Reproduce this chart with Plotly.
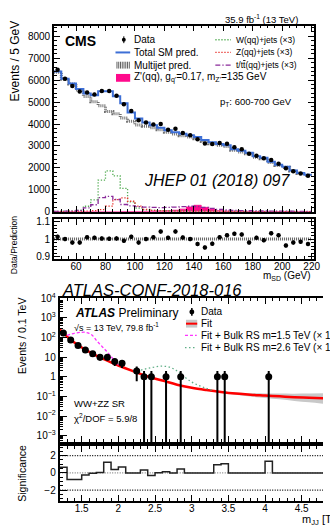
import plotly.graph_objects as go

W, H = 330, 530
def fx(p): return p / W
def fy(p): return 1 - p / H

FONT = "Liberation Sans"

# ---------------- CMS panel data ----------------
cms_edges = [45 + 5 * i for i in range(36)]
cms_centers = [47.5 + 5 * i for i in range(35)]
cms_data = [6470, 6070, 5735, 5485, 5440, 5350, 5510, 5510, 5290, 4900,
            4590, 4170, 4070, 3980, 4000, 3740, 3790, 3590, 3490, 3310,
            3115, 3085, 3130, 3100, 2940, 2850, 2640, 2550, 2445, 2355,
            2190, 1980, 1846, 1743, 1640]
cms_data_err = [80, 78, 76, 74, 74, 73, 74, 74, 73, 70,
                68, 65, 64, 63, 63, 61, 62, 60, 59, 58,
                56, 56, 56, 56, 54, 53, 51, 50, 49, 49,
                47, 44, 43, 42, 40]
cms_pred = [6390, 6070, 5850, 5600, 5390, 5310, 5490, 5500, 5270, 4950,
            4530, 4255, 4070, 3940, 3835, 3715, 3630, 3560, 3490, 3405,
            3270, 3170, 3095, 3035, 2855, 2780, 2695, 2530, 2460, 2280,
            2145, 2055, 1885, 1770, 1690]
cms_multijet = [6360, 6040, 5820, 5550, 5250, 5020, 4830, 4575, 4470, 4280,
                4125, 3960, 3900, 3830, 3740, 3620, 3540, 3470, 3410, 3330,
                3200, 3100, 3030, 2970, 2800, 2725, 2645, 2490, 2420, 2245,
                2110, 2025, 1855, 1745, 1665]
cms_w3 = [20, 25, 30, 60, 250, 540, 1440, 1860, 1640, 1070,
          450, 170, 90, 60, 50, 45, 40, 38, 35, 32,
          30, 28, 26, 24, 22, 20, 18, 16, 15, 14,
          13, 12, 11, 10, 10]
cms_z3 = [10, 10, 15, 20, 30, 50, 100, 260, 550, 630,
          480, 260, 110, 60, 40, 30, 25, 22, 20, 18,
          16, 15, 14, 13, 12, 11, 10, 10, 9, 9,
          8, 8, 7, 7, 6]
cms_top3 = [20, 25, 30, 60, 180, 320, 640, 700, 560, 330,
            270, 230, 210, 200, 190, 200, 210, 230, 250, 240,
            200, 150, 110, 80, 60, 50, 45, 40, 35, 30,
            28, 25, 22, 20, 18]
cms_zprime = [5, 5, 5, 5, 5, 5, 5, 5, 5, 8,
              10, 12, 20, 30, 40, 50, 70, 120, 220, 295,
              200, 110, 50, 30, 20, 15, 15, 10, 10, 10,
              10, 8, 8, 6, 6]
cms_ratio = [1.013, 1.0, 0.98, 0.98, 1.01, 1.007, 1.004, 1.002, 1.004, 0.99,
             1.013, 0.98, 1.0, 1.011, 1.043, 1.007, 1.044, 1.009, 1.0, 0.972,
             0.952, 0.974, 1.011, 1.022, 1.03, 1.026, 0.98, 1.007, 0.994, 1.033,
             1.022, 0.963, 0.98, 0.985, 0.972]
cms_ratio_err = [0.012] * 35

# ---------------- ATLAS panel data ----------------
atl_x = [1.25, 1.35, 1.45, 1.55, 1.65, 1.75, 1.85, 1.95, 2.05, 2.25,
         2.35, 2.45, 2.65, 2.85, 3.35, 3.45, 4.05]
atl_y = [171, 76, 40, 23, 15, 10, 10, 6, 5, 2, 1, 1, 1, 1, 1, 1, 1]
atl_err_up = [13, 8.7, 6.3, 4.8, 3.9, 3.2, 3.2, 2.4, 2.2, 1.4, 1, 1, 1, 1, 1, 1, 1]
atl_err_dn = [13, 8.7, 6.3, 4.8, 3.9, 3.2, 3.2, 2.4, 2.2, 1.4,
              0.9999, 0.9999, 0.9999, 0.9999, 0.9999, 0.9999, 0.9999]

fit_x = [1.2, 1.3, 1.4, 1.5, 1.6, 1.7, 1.8, 1.9, 2.0, 2.2, 2.4, 2.6, 2.8,
         3.0, 3.2, 3.4, 3.6, 3.8, 4.0, 4.2, 4.4, 4.6, 4.8]
fit_y = [263, 112, 56, 31, 19, 12, 7.9, 5.5, 3.8, 1.95, 1.05, 0.65, 0.40,
         0.28, 0.214, 0.17, 0.141, 0.123, 0.112, 0.102, 0.093, 0.087, 0.081]
fit_hi = [272, 116, 58, 32, 19.6, 12.4, 8.2, 5.7, 3.95, 2.03, 1.09, 0.68, 0.415,
          0.29, 0.225, 0.185, 0.161, 0.148, 0.143, 0.141, 0.140, 0.143, 0.145]
fit_lo = [254, 108, 54, 30, 18.4, 11.6, 7.6, 5.3, 3.65, 1.87, 1.01, 0.62, 0.385,
          0.27, 0.203, 0.155, 0.122, 0.100, 0.085, 0.072, 0.060, 0.051, 0.043]

rs15_x = [1.3, 1.4, 1.5, 1.55, 1.6, 1.65, 1.7, 1.75, 1.8, 1.85, 1.9, 1.95, 2.0]
rs15_y = [128, 165, 185, 185, 165, 125, 72, 45, 29, 18, 11, 6.5, 4.0]
rs26_x = [2.2, 2.3, 2.4, 2.5, 2.6, 2.7, 2.8, 2.9, 3.0, 3.1, 3.2, 3.3]
rs26_y = [2.0, 2.2, 2.7, 3.2, 3.5, 3.1, 2.0, 1.0, 0.55, 0.36, 0.26, 0.2]

sig_edges = [round(1.2 + 0.1 * i, 2) for i in range(37)]
sig_vals = [0.65, -0.75, -0.75, -0.25, -0.05, 0.05, 1.25, 0.4, 0.7, 0.0,
            0.0, 0.35, -0.3, 0.02, 0.15, 0.0, 0.45, 0.0, 0.0, 0.0,
            0.0, 0.95, 1.05, 0.0, 0.0, 0.0, 0.0, 0.0, 1.35, 0.0,
            0.0, 0.0, 0.0, 0.0, 0.0, 0.0]

def step(v):
    return list(v) + [v[-1]]

GREEN = "#55ad55"
RED = "#e8302a"
PURPLE = "#8a2a9a"
BLUE = "#3d6fd6"
PINK = "#ff0a8c"
DOT = "1.3px,1.7px"
DASHDOT = "5px,2px,1.3px,2px"

fig = go.Figure()

# ---- CMS main ----
fig.add_trace(go.Scatter(x=cms_edges, y=step(cms_zprime), xaxis="x", yaxis="y",
                         mode="lines", line=dict(shape="hv", color=PINK, width=0.8),
                         fill="tozeroy", fillcolor=PINK, hoverinfo="skip"))
fig.add_trace(go.Scatter(x=cms_edges, y=step(cms_w3), xaxis="x", yaxis="y", mode="lines",
                         line=dict(shape="hv", color=GREEN, width=1.3, dash=DOT)))
fig.add_trace(go.Scatter(x=cms_edges, y=step(cms_z3), xaxis="x", yaxis="y", mode="lines",
                         line=dict(shape="hv", color=RED, width=1.3, dash=DOT)))
fig.add_trace(go.Scatter(x=cms_edges, y=step(cms_top3), xaxis="x", yaxis="y", mode="lines",
                         line=dict(shape="hv", color=PURPLE, width=1.3, dash=DASHDOT)))
fig.add_trace(go.Scatter(x=cms_edges, y=step(cms_multijet), xaxis="x", yaxis="y", mode="lines",
                         line=dict(shape="hv", color="#707070", width=3, dash="1px,1px")))
fig.add_trace(go.Scatter(x=cms_edges, y=step(cms_pred), xaxis="x", yaxis="y", mode="lines",
                         line=dict(shape="hv", color=BLUE, width=2)))
fig.add_trace(go.Scatter(x=cms_centers, y=cms_data, xaxis="x", yaxis="y", mode="markers",
                         marker=dict(color="black", size=4.5),
                         error_y=dict(type="data", array=cms_data_err, color="black",
                                      thickness=1, width=0)))

# ---- CMS ratio ----
fig.add_trace(go.Scatter(x=[cms_edges[0], cms_edges[-1]], y=[1, 1], xaxis="x2", yaxis="y2",
                         mode="lines", line=dict(color="#606060", width=3, dash="1px,1px")))
fig.add_trace(go.Scatter(x=cms_centers, y=cms_ratio, xaxis="x2", yaxis="y2", mode="markers",
                         marker=dict(color="black", size=4.5),
                         error_y=dict(type="data", array=cms_ratio_err, color="black",
                                      thickness=1, width=0)))

# ---- ATLAS main ----
fig.add_trace(go.Scatter(x=fit_x, y=fit_lo, xaxis="x3", yaxis="y3", mode="lines",
                         line=dict(width=0, shape="spline", color="#c8c8c8")))
fig.add_trace(go.Scatter(x=fit_x, y=fit_hi, xaxis="x3", yaxis="y3", mode="lines",
                         line=dict(width=0, shape="spline", color="#c8c8c8"),
                         fill="tonexty", fillcolor="#c8c8c8"))
fig.add_trace(go.Scatter(x=fit_x, y=fit_y, xaxis="x3", yaxis="y3", mode="lines",
                         line=dict(color="#ff0000", width=2.5, shape="spline")))
fig.add_trace(go.Scatter(x=rs15_x, y=rs15_y, xaxis="x3", yaxis="y3", mode="lines",
                         line=dict(color="#ff33ff", width=1.3, dash="3px,2px", shape="spline")))
fig.add_trace(go.Scatter(x=rs26_x, y=rs26_y, xaxis="x3", yaxis="y3", mode="lines",
                         line=dict(color="#5fae86", width=1.3, dash="1.5px,2.5px", shape="spline")))
fig.add_trace(go.Scatter(x=atl_x, y=atl_y, xaxis="x3", yaxis="y3", mode="markers",
                         marker=dict(color="black", size=7),
                         error_y=dict(type="data", symmetric=False, array=atl_err_up,
                                      arrayminus=atl_err_dn, color="black",
                                      thickness=2, width=0)))

# ---- ATLAS significance ----
fig.add_trace(go.Scatter(x=sig_edges, y=step(sig_vals), xaxis="x4", yaxis="y4", mode="lines",
                         line=dict(shape="hv", color="#222222", width=1.5)))

axfont = dict(family=FONT, size=10, color="black")

def lin_axis(domain, rng, dtick, minor_dtick, anchor, show_labels, lw=1.5, **kw):
    d = dict(domain=domain, range=rng, anchor=anchor, dtick=dtick, tick0=0,
             ticks="inside", ticklen=6, tickwidth=1, tickcolor="black",
             showline=True, linecolor="black", linewidth=lw, mirror="ticks",
             showgrid=False, zeroline=False, showticklabels=show_labels,
             tickfont=axfont,
             minor=dict(dtick=minor_dtick, ticks="inside", ticklen=3, tickcolor="black",
                        showgrid=False))
    d.update(kw)
    return d

minor_log = [m * 10 ** e for e in range(-4, 4) for m in range(2, 10)]

fig.update_layout(
    width=W, height=H,
    margin=dict(l=0, r=0, t=0, b=0),
    paper_bgcolor="white", plot_bgcolor="white",
    showlegend=False,
    font=dict(family=FONT, color="black"),
    xaxis=lin_axis([fx(55.1), fx(320.7)], [45, 221.5], 20, 5, "y", False),
    yaxis=lin_axis([fy(209.5), fy(19)], [0, 8490], 1000, 200, "x", True),
    xaxis2=lin_axis([fx(55.1), fx(320.7)], [45, 221.5], 20, 5, "y2", True,
                    ticklabelstandoff=-3),
    yaxis2=lin_axis([fy(258), fy(217.3)], [0.885, 1.113], 0.1, 0.02, "x2", True,
                    tickvals=[0.9, 1.0, 1.1], ticktext=["0.9", "1", "1.1"]),
    xaxis3=lin_axis([fx(61), 1.0], [1.2, 4.79], 0.5, 0.1, "y3", False, lw=2),
    yaxis3=dict(domain=[fy(445), fy(298)], type="log", range=[-3.31, 4.0], anchor="x3",
                tickvals=[1e-3, 1e-2, 1e-1, 1, 10, 100, 1e3, 1e4],
                ticktext=["10<sup>−3</sup>", "10<sup>−2</sup>", "10<sup>−1</sup>", "1", "10",
                          "10<sup>2</sup>", "10<sup>3</sup>", "10<sup>4</sup>"],
                ticks="inside", ticklen=7, tickcolor="black", showline=True,
                linecolor="black", linewidth=2, mirror=False, showgrid=False,
                tickfont=axfont,
                minor=dict(tickvals=minor_log, ticks="inside", ticklen=3.5,
                           tickcolor="black", showgrid=False)),
    xaxis4=lin_axis([fx(61), 1.0], [1.2, 4.79], 0.5, 0.1, "y4", True, lw=2,
                    ticklabelstandoff=-3),
    yaxis4=dict(domain=[fy(505), fy(449)], range=[-3.2, 3.14], anchor="x4",
                tickvals=[-2, 0, 2], ticktext=["−2", "0", "2"],
                ticks="inside", ticklen=7, tickcolor="black", showline=True,
                linecolor="black", linewidth=2, mirror=False, showgrid=False,
                zeroline=False, tickfont=axfont,
                minor=dict(dtick=0.5, ticks="inside", ticklen=3.5, tickcolor="black",
                           showgrid=False)),
)

shapes = []
# significance reference lines
for yv, col in [(2, "black"), (-2, "black"), (0, "#808080")]:
    shapes.append(dict(type="line", xref="x4", yref="y4", x0=1.2, x1=4.79, y0=yv, y1=yv,
                       line=dict(color=col, width=1.2, dash="1px,1.5px"), layer="below"))

# CMS legend symbols
shapes.append(dict(type="line", xref="paper", yref="paper", x0=fx(126.5), x1=fx(126.5),
                   y0=fy(30), y1=fy(37), line=dict(color="black", width=1)))
shapes.append(dict(type="circle", xref="paper", yref="paper", x0=fx(124.5), x1=fx(128.5),
                   y0=fy(31.5), y1=fy(35.5), fillcolor="black", line=dict(color="black", width=0)))
shapes.append(dict(type="line", xref="paper", yref="paper", x0=fx(118), x1=fx(133),
                   y0=fy(46.5), y1=fy(46.5), line=dict(color=BLUE, width=2)))
shapes.append(dict(type="rect", xref="paper", yref="paper", x0=fx(119), x1=fx(133),
                   y0=fy(63), y1=fy(56), line=dict(width=0), fillcolor="white"))
for i in range(8):
    xx = 119.5 + i * 1.8
    shapes.append(dict(type="line", xref="paper", yref="paper", x0=fx(xx), x1=fx(xx),
                       y0=fy(63), y1=fy(56), line=dict(color="#606060", width=1)))
shapes.append(dict(type="rect", xref="paper", yref="paper", x0=fx(118.5), x1=fx(133),
                   y0=fy(76.5), y1=fy(68.5), line=dict(width=0), fillcolor=PINK))
shapes.append(dict(type="line", xref="paper", yref="paper", x0=fx(220), x1=fx(236),
                   y0=fy(33.5), y1=fy(33.5), line=dict(color=GREEN, width=1.3, dash=DOT)))
shapes.append(dict(type="line", xref="paper", yref="paper", x0=fx(220), x1=fx(236),
                   y0=fy(46.5), y1=fy(46.5), line=dict(color=RED, width=1.3, dash=DOT)))
shapes.append(dict(type="line", xref="paper", yref="paper", x0=fx(220), x1=fx(236),
                   y0=fy(59.5), y1=fy(59.5), line=dict(color=PURPLE, width=1.3, dash=DASHDOT)))

# ATLAS legend symbols
shapes.append(dict(type="line", xref="paper", yref="paper", x0=fx(196), x1=fx(196),
                   y0=fy(308), y1=fy(316), line=dict(color="black", width=1.5)))
shapes.append(dict(type="circle", xref="paper", yref="paper", x0=fx(193.5), x1=fx(198.5),
                   y0=fy(309.5), y1=fy(314.5), fillcolor="black", line=dict(width=0)))
shapes.append(dict(type="rect", xref="paper", yref="paper", x0=fx(190), x1=fx(201.5),
                   y0=fy(328), y1=fy(320), fillcolor="#c8c8c8", line=dict(width=0)))
shapes.append(dict(type="line", xref="paper", yref="paper", x0=fx(190), x1=fx(201.5),
                   y0=fy(324), y1=fy(324), line=dict(color="#ff0000", width=2)))
shapes.append(dict(type="line", xref="paper", yref="paper", x0=fx(189), x1=fx(201),
                   y0=fy(336), y1=fy(336), line=dict(color="#ff33ff", width=1.3, dash="3px,2px")))
shapes.append(dict(type="line", xref="paper", yref="paper", x0=fx(189), x1=fx(201),
                   y0=fy(348.5), y1=fy(348.5), line=dict(color="#5fae86", width=1.3, dash="1.5px,2.5px")))

fig.update_layout(shapes=shapes)

def ann(text, x, y, size=10, xanchor="left", yanchor="middle", angle=0, **kw):
    return dict(text=text, x=fx(x), y=fy(y), xref="paper", yref="paper", showarrow=False,
                xanchor=xanchor, yanchor=yanchor, textangle=angle,
                font=dict(family=FONT, size=size, color="black"), **kw)

annotations = [
    ann("35.9 fb<sup>-1</sup> (13 TeV)", 306, 12, size=9.5, xanchor="right"),
    ann("<b>CMS</b>", 64, 35, size=14),
    ann("Data", 135, 33.5, size=10),
    ann("Total SM pred.", 135, 46.5, size=10),
    ann("Multijet pred.", 135, 59.5, size=10),
    ann("Z'(qq), g<sub>q'</sub>=0.17, m<sub>Z'</sub>=135 GeV", 135, 72.5, size=10),
    ann("W(qq)+jets (×3)", 239, 33.5, size=8.5),
    ann("Z(qq)+jets (×3)", 239, 46.5, size=8.5),
    ann("t/t<span style='text-decoration:overline'>t</span>(qq)+jets (×3)", 239, 59.5, size=8.5),
    ann("p<sub>T</sub>: 600-700 GeV", 300, 97, size=9.5, xanchor="right"),
    ann("<i>JHEP 01 (2018) 097</i>", 145, 178, size=16),
    ann("Events / 5 GeV", 15, 55, size=12, xanchor="center", angle=-90),
    ann("Data/Prediction", 15, 244, size=8.5, xanchor="center", angle=-90),
    ann("m<sub>SD</sub> (GeV)", 320, 275, size=10, xanchor="right"),
    ann("<i>ATLAS-CONF-2018-016</i>", 61, 290, size=16.5),
    ann("<b><i>ATLAS</i></b> Preliminary", 75, 313.5, size=12),
    ann("√s = 13 TeV, 79.8 fb<sup>-1</sup>", 74, 327, size=9),
    ann("Data", 203, 312, size=10),
    ann("Fit", 203, 324, size=10),
    ann("Fit + Bulk RS m=1.5 TeV (× 1)", 203, 336, size=10),
    ann("Fit + Bulk RS m=2.6 TeV (× 1)", 203, 348.5, size=10),
    ann("WW+ZZ SR", 74, 406, size=9.5),
    ann("χ<sup>2</sup>/DOF = 5.9/8", 74, 421, size=9.5),
    ann("Events / 0.1 TeV", 23, 337, size=10.5, xanchor="center", angle=-90),
    ann("Significance", 23, 477, size=10.5, xanchor="center", angle=-90),
    ann("m<sub>JJ</sub> [TeV]", 307, 525, size=11),
]
fig.update_layout(annotations=annotations)

fig.write_html("out.html")
